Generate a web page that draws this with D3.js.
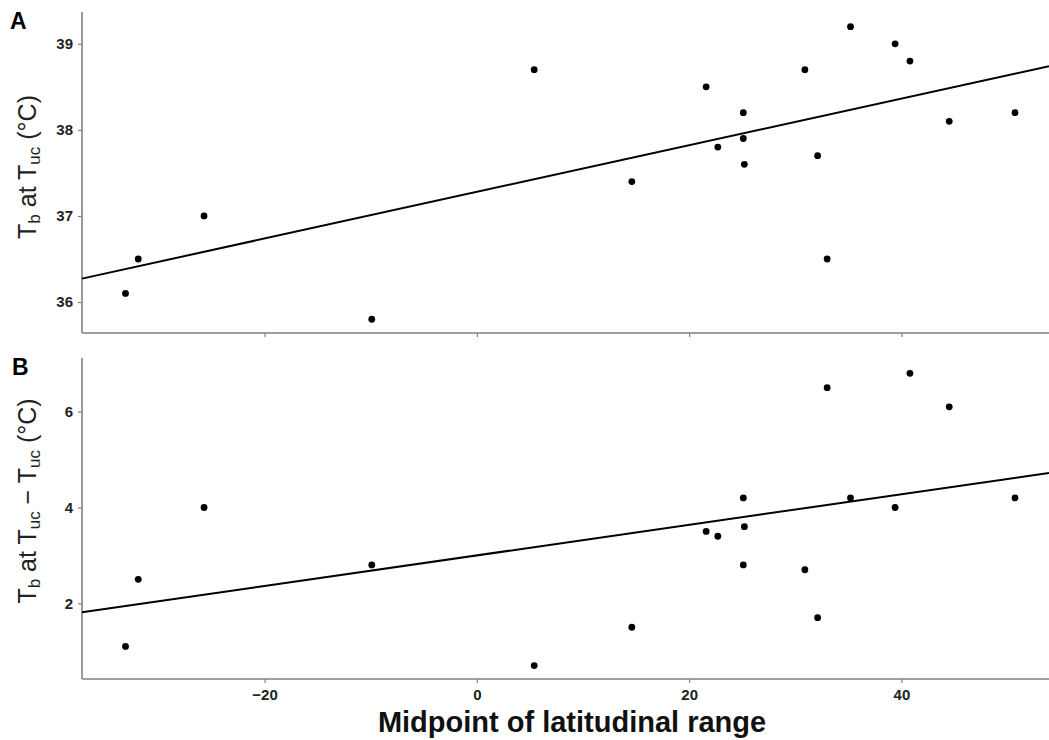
<!DOCTYPE html>
<html>
<head>
<meta charset="utf-8">
<script src="https://cdn.jsdelivr.net/npm/d3@7"></script>
<style>
  html, body { margin: 0; padding: 0; background: #fff; }
  svg { display: block; font-family: Arial, "Liberation Sans", sans-serif; }
</style>
</head>
<body>
<svg id="chart" width="1049" height="740"></svg>
<script>
// ---- data ----
const latitude = [-33.1, -31.9, -25.7, -9.9, 5.4, 14.6, 21.6, 22.7, 25.1, 25.1, 25.2, 30.9, 32.1, 33.0, 35.2, 39.4, 40.8, 44.5, 50.7];
const tbAtTuc = [36.1, 36.5, 37.0, 35.8, 38.7, 37.4, 38.5, 37.8, 38.2, 37.9, 37.6, 38.7, 37.7, 36.5, 39.2, 39.0, 38.8, 38.1, 38.2];
const tbMinusTuc = [1.1, 2.5, 4.0, 2.8, 0.7, 1.5, 3.5, 3.4, 4.2, 2.8, 3.6, 2.7, 1.7, 6.5, 4.2, 4.0, 6.8, 6.1, 4.2];
const fitA = [37.28, 0.0271];   // intercept, slope
const fitB = [3.00, 0.0319];
const xTicks = [-20, 0, 20, 40];
const yTicksA = [36, 37, 38, 39];
const yTicksB = [2, 4, 6];
const xDomain = [-37.2, 53.9];
const yDomainA = [35.64, 39.37];
const yDomainB = [0.42, 7.12];

const svg = d3.select("#chart");
const left = 82, right = 1049;
const axisColor = "#808080";

const x = d3.scaleLinear().domain(xDomain).range([left, right]);

function panel(cfg) {
  const y = d3.scaleLinear().domain(cfg.yDomain).range([cfg.bottom, cfg.top]);
  const g = svg.append("g");

  // y axis
  const ya = g.append("g").attr("transform", `translate(${left},0)`)
    .call(d3.axisLeft(y).tickValues(cfg.yTicks).tickSize(4).tickPadding(5).tickFormat(d3.format("d")));
  ya.select(".domain").remove();
  ya.selectAll(".tick line").attr("stroke", axisColor).attr("stroke-width", 1.2);
  ya.selectAll(".tick text").attr("font-size", 15).attr("font-weight", "bold").attr("fill", "#222")
    .attr("font-family", "Arial, 'Liberation Sans', sans-serif");
  g.append("line").attr("x1", left).attr("x2", left).attr("y1", cfg.top).attr("y2", cfg.bottom)
    .attr("stroke", axisColor).attr("stroke-width", 1.6);

  // x axis
  const xa = g.append("g").attr("transform", `translate(0,${cfg.bottom})`)
    .call(d3.axisBottom(x).tickValues(xTicks).tickSize(4).tickPadding(6).tickFormat(d3.format("d")));
  xa.select(".domain").remove();
  xa.selectAll(".tick line").attr("stroke", axisColor).attr("stroke-width", 1.2);
  xa.selectAll(".tick text").attr("font-size", 15).attr("font-weight", "bold").attr("fill", "#222")
    .attr("font-family", "Arial, 'Liberation Sans', sans-serif")
    .style("display", cfg.showXLabels ? null : "none");
  g.append("line").attr("x1", left).attr("x2", right).attr("y1", cfg.bottom).attr("y2", cfg.bottom)
    .attr("stroke", axisColor).attr("stroke-width", 1.6);

  // fit line
  const fx = x.domain();
  g.append("line")
    .attr("x1", x(fx[0])).attr("y1", y(cfg.fit[0] + cfg.fit[1] * fx[0]))
    .attr("x2", x(fx[1])).attr("y2", y(cfg.fit[0] + cfg.fit[1] * fx[1]))
    .attr("stroke", "#000").attr("stroke-width", 2);

  // points
  g.selectAll("circle").data(latitude.map((d, i) => [d, cfg.values[i]]))
    .join("circle")
    .attr("cx", d => x(d[0])).attr("cy", d => y(d[1])).attr("r", 3.4).attr("fill", "#000");

  // panel letter
  g.append("text").attr("x", cfg.letterX).attr("y", cfg.top + 17).text(cfg.letter)
    .attr("font-size", 23).attr("font-weight", "bold").attr("fill", "#000");

  // y title
  const t = g.append("text")
    .attr("transform", `translate(36,${cfg.titleY}) rotate(-90)`)
    .attr("text-anchor", "middle").attr("font-size", 25).attr("fill", "#222");
  cfg.title.forEach(p => {
    const ts = t.append("tspan").text(p[0]);
    if (p[1]) ts.attr("font-size", 17).attr("baseline-shift", "-22%");
  });
}

panel({ top: 12, bottom: 333, yDomain: yDomainA, yTicks: yTicksA, values: tbAtTuc, fit: fitA,
  letter: "A", letterX: 10, titleY: 167, showXLabels: false,
  title: [["T"], ["b", true], [" at T"], ["uc", true], [" (°C)"]] });

panel({ top: 358, bottom: 679, yDomain: yDomainB, yTicks: yTicksB, values: tbMinusTuc, fit: fitB,
  letter: "B", letterX: 12, titleY: 501, showXLabels: true,
  title: [["T"], ["b", true], [" at T"], ["uc", true], [" \u2212 T"], ["uc", true], [" (°C)"]] });

svg.append("text").attr("x", 572).attr("y", 732)
  .attr("text-anchor", "middle").attr("font-size", 29).attr("font-weight", "bold").attr("fill", "#111")
  .text("Midpoint of latitudinal range");
</script>
</body>
</html>
